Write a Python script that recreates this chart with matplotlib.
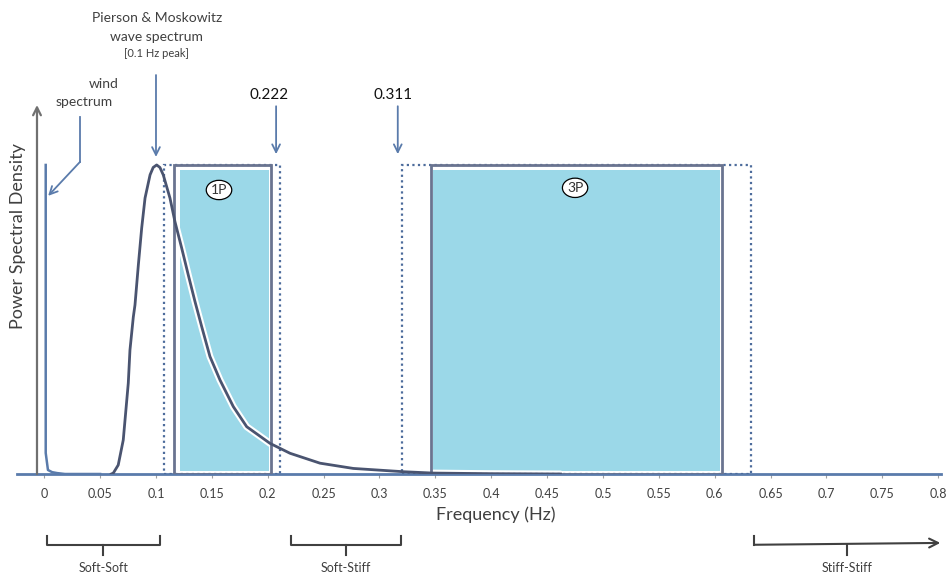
import matplotlib.pyplot as plt
import matplotlib.patches as mpatches
import numpy as np

plt.rcParams['font.family'] = ['Lato', 'DejaVu Sans']

# wind spectrum (normalised PSD)
wind_f = [0.0013, 0.0013, 0.0033, 0.0070, 0.0114, 0.0185, 0.05]
wind_psd = [1.0, 0.068, 0.013, 0.006, 0.003, 0.0, 0.0]

# Pierson & Moskowitz wave spectrum, 0.1 Hz peak
wave_f = [0.060, 0.0618, 0.0662, 0.0707, 0.0752, 0.0767, 0.0797, 0.0812, 0.0842,
          0.0872, 0.0902, 0.0947, 0.0975, 0.1006, 0.1035, 0.1065, 0.1125, 0.1170,
          0.1230, 0.1289, 0.1349, 0.1409, 0.1483, 0.1573, 0.1692, 0.1812, 0.2021,
          0.2200, 0.2468, 0.2766, 0.3214, 0.348, 0.40, 0.462]
wave_psd = [0.0, 0.003, 0.029, 0.110, 0.294, 0.401, 0.508, 0.547, 0.676,
            0.796, 0.893, 0.968, 0.992, 1.0, 0.992, 0.968, 0.893, 0.816,
            0.731, 0.644, 0.558, 0.477, 0.380, 0.304, 0.218, 0.153, 0.099,
            0.067, 0.035, 0.018, 0.0074, 0.003, 0.001, 0.0]

# rotor frequency bands: solid = operating range, dotted = with margin
band_names = ['1P', '3P']
band_lo = [0.1161, 0.3459]
band_hi = [0.2027, 0.6065]
margin_lo = [0.1072, 0.3200]
margin_hi = [0.2106, 0.6324]
fill_lo = [0.1215, 0.3480]
fill_hi = [0.2012, 0.6049]
band_label_x = [0.1564, 0.4751]
band_label_y = [0.919, 0.926]

# design regions below the axis
region_names = ['Soft-Soft', 'Soft-Stiff', 'Stiff-Stiff']
region_lo = [0.0024, 0.2209, 0.6354]
region_hi = [0.1036, 0.3193, 0.8020]

tick_vals = np.round(np.arange(0, 0.801, 0.05), 2)
tick_labels = ['0', '0.05', '0.1', '0.15', '0.2', '0.25', '0.3', '0.35', '0.4',
               '0.45', '0.5', '0.55', '0.6', '0.65', '0.7', '0.75', '0.8']

line_col = '#5a7bab'
box_col = '#6a7490'
text_col = '#404040'
fill_col = '#9bd8e8'

fig = plt.figure(figsize=(9.47, 5.76), dpi=100)
ax = fig.add_axes([17 / 947, 102 / 576, 924 / 947, 369 / 576])
ax.set_xlim(-0.0244, 0.8026)
ax.set_ylim(0, 1.194)

for s in ['top', 'right', 'left']:
    ax.spines[s].set_visible(False)
ax.spines['bottom'].set_color(line_col)
ax.spines['bottom'].set_linewidth(2)
ax.set_yticks([])
ax.set_xticks(tick_vals)
ax.set_xticklabels(tick_labels)
ax.tick_params(axis='x', length=3, color='#a0a0a0', labelsize=9,
               labelcolor=text_col, pad=7)

# bands
for i in range(len(band_names)):
    ax.add_patch(mpatches.Rectangle((fill_lo[i], 0.009), fill_hi[i] - fill_lo[i], 0.975,
                                    fc=fill_col, ec='none', zorder=1))
    ax.add_patch(mpatches.Rectangle((margin_lo[i], 0), margin_hi[i] - margin_lo[i], 1.0,
                                    fc='none', ec='#4d6c9c', ls=(0, (1, 1.5)), lw=1.6, zorder=3))
    ax.add_patch(mpatches.Rectangle((band_lo[i], 0), band_hi[i] - band_lo[i], 1.0,
                                    fc='none', ec=box_col, lw=2, zorder=3))
    ax.text(band_label_x[i], band_label_y[i], band_names[i],
            ha='center', va='center', fontsize=10, color='#333333', zorder=6,
            bbox=dict(boxstyle='ellipse,pad=0.06', fc='white', ec='black', lw=0.9))

# spectra
ax.plot(wave_f, wave_psd, color='white', lw=5, zorder=2, solid_capstyle='round')
ax.plot(wave_f, wave_psd, color='#4a5470', lw=2, zorder=4, solid_joinstyle='round')
ax.plot(wind_f, wind_psd, color=line_col, lw=1.8, zorder=4)

# y axis arrow
ax.annotate('', xy=(-0.0065, 1.194), xytext=(-0.0065, 0), annotation_clip=False,
            arrowprops=dict(arrowstyle='->', color='#707070', lw=1.6,
                            mutation_scale=14, shrinkA=0, shrinkB=0))
fig.text(18 / 947, 1 - 236 / 576, 'Power Spectral Density', rotation=90,
         ha='center', va='center', fontsize=13, color=text_col)
ax.text(0.404, -0.133, 'Frequency (Hz)', ha='center', va='center',
        fontsize=13, color=text_col)

arrow_kw = dict(arrowstyle='->', color=line_col, lw=1.3, mutation_scale=14,
                shrinkA=0, shrinkB=0)

# wave spectrum callout
ax.text(0.1006, 1.476, 'Pierson & Moskowitz', ha='center', va='center',
        fontsize=10, color=text_col, clip_on=False)
ax.text(0.1006, 1.414, 'wave spectrum', ha='center', va='center',
        fontsize=10, color=text_col, clip_on=False)
ax.text(0.1006, 1.362, '[0.1 Hz peak]', ha='center', va='center',
        fontsize=8, color=text_col, clip_on=False)
ax.annotate('', xy=(0.1, 1.026), xytext=(0.1, 1.291), annotation_clip=False,
            arrowprops=arrow_kw)

# wind spectrum callout
ax.text(0.053, 1.262, 'wind', ha='center', va='center', fontsize=10,
        color=text_col, clip_on=False)
ax.text(0.036, 1.204, 'spectrum', ha='center', va='center', fontsize=10,
        color=text_col, clip_on=False)
ax.plot([0.032, 0.032], [1.155, 1.01], color=line_col, lw=1.3, clip_on=False)
ax.annotate('', xy=(0.0035, 0.9), xytext=(0.032, 1.01), annotation_clip=False,
            arrowprops=arrow_kw)

# band edge callouts
for val, x, lab_x in [(0.222, 0.2075, 0.2009), (0.311, 0.3164, 0.3121)]:
    ax.text(lab_x, 1.227, f'{val:.3f}', ha='center', va='center', fontsize=11,
            color='#111111', clip_on=False)
    ax.annotate('', xy=(x, 1.035), xytext=(x, 1.19), annotation_clip=False,
                arrowprops=arrow_kw)

# region brackets below the axis
y_top, y_bar, y_tick, y_txt = -0.200, -0.229, -0.262, -0.305
for i, name in enumerate(region_names):
    lo, hi = region_lo[i], region_hi[i]
    mid = (lo + hi) / 2
    if i < 2:
        ax.plot([lo, lo, hi, hi], [y_top, y_bar, y_bar, y_top], color=text_col,
                lw=1.5, clip_on=False)
    else:
        ax.plot([lo, lo], [y_top, y_bar], color=text_col, lw=1.5, clip_on=False)
        ax.annotate('', xy=(hi, y_bar + 0.006), xytext=(lo, y_bar),
                    annotation_clip=False,
                    arrowprops=dict(arrowstyle='->', color=text_col, lw=1.5,
                                    mutation_scale=16, shrinkA=0, shrinkB=0))
    ax.plot([mid, mid], [y_bar, y_tick], color=text_col, lw=1.5, clip_on=False)
    ax.text(mid, y_txt, name, ha='center', va='center', fontsize=9,
            color=text_col, clip_on=False)

fig.savefig('out.png', dpi=100)
